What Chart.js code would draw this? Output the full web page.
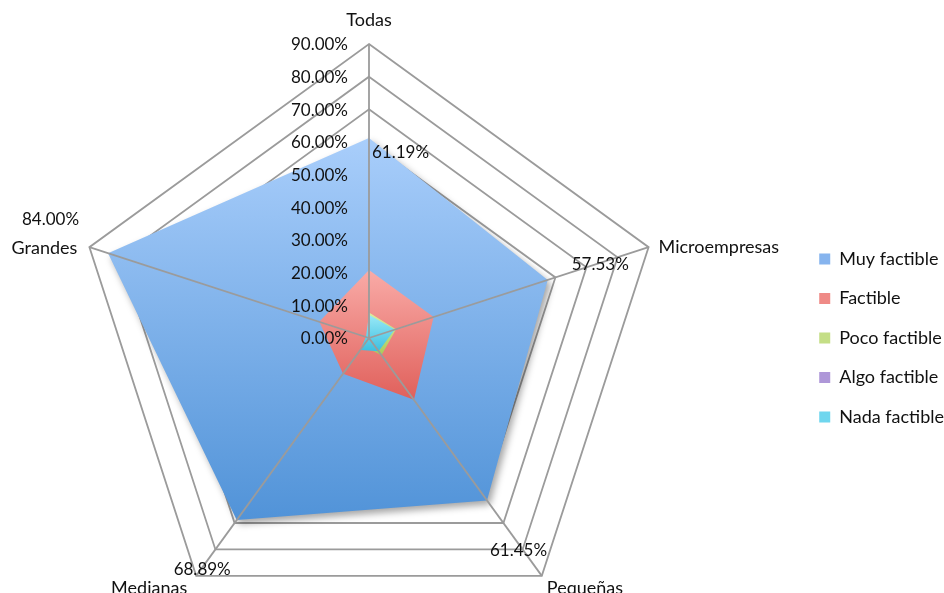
<!DOCTYPE html>
<html lang="es">
<head>
<meta charset="utf-8">
<title>Factibilidad por tamaño de empresa</title>
<script src="https://cdn.jsdelivr.net/npm/chart.js@4/dist/chart.umd.min.js"></script>
<style>
  html, body { margin: 0; padding: 0; background: #ffffff; overflow: hidden; }
  #wrap { position: relative; width: 944px; height: 593px; overflow: hidden; }
  /* el lienzo sobresale un poco para centrar el radar y dejar la leyenda a la derecha */
  #chartFactibilidad { position: absolute; left: -58px; top: 0; }
</style>
</head>
<body>
<div id="wrap"><canvas id="chartFactibilidad" width="1012" height="640"></canvas></div>
<script>
// Categorías (ejes) y series, en porcentaje
const categorias = ['Todas', 'Microempresas', 'Pequeñas', 'Medianas', 'Grandes'];
const muyFactible = [61.19, 57.53, 61.45, 68.89, 84.00];
const factible = [20.8, 20.8, 23.4, 13.5, 16.0];
const pocoFactible = [7.8, 8.7, 6.5, 3.0, 0.5];
const algoFactible = [2.0, 2.5, 2.0, 1.5, 0.0];
const nadaFactible = [7.1, 8.3, 5.0, 4.5, 1.0];
const valoresEje = [0, 10, 20, 30, 40, 50, 60, 70, 80, 90];

const FUENTE = 'Lato, "Open Sans", sans-serif';
const pct = v => v.toFixed(2) + '%';

// desplazamientos de etiquetas (px) respecto al punto del eje
const posEtiquetasEje = [
  { dx: 0, dy: -24, align: 'center' },
  { dx: 10, dy: 0, align: 'left' },
  { dx: 5, dy: 12, align: 'left' },
  { dx: -9, dy: 12, align: 'right' },
  { dx: -12, dy: 1, align: 'right' }
];
const posEtiquetasValor = [
  { dx: 3, dy: 14, align: 'left' },
  { dx: 24, dy: -15, align: 'left' },
  { dx: 3, dy: 50, align: 'left' },
  { dx: -6, dy: 49, align: 'right' },
  { dx: -29, dy: -34, align: 'right' }
];
// color de los cuadros de la leyenda
const coloresLeyenda = ['#86b4ee', '#ef8a86', '#c4de86', '#ae97d8', '#6fd6ee'];

// degradado vertical que cubre el polígono de cada serie
function degradado(arriba, abajo) {
  return function(c) {
    const s = c.chart.scales.r;
    if (!s || !s.drawingArea || !c.dataset) return abajo;
    const ys = c.dataset.data.map((v, i) => s.getPointPositionForValue(i, v).y);
    const y0 = Math.min(...ys), y1 = Math.max(...ys);
    const g = c.chart.ctx.createLinearGradient(0, y0, 0, y1 > y0 ? y1 : y0 + 1);
    g.addColorStop(0, arriba);
    g.addColorStop(1, abajo);
    return g;
  };
}

function serie(label, data, arriba, abajo, orden) {
  return { label, data, order: orden, fill: true, backgroundColor: degradado(arriba, abajo), borderWidth: 0, pointRadius: 0, pointHoverRadius: 0 };
}

// sombra bajo la serie principal
const sombra = {
  id: 'sombra',
  beforeDatasetsDraw(chart) {
    const ctx = chart.ctx;
    ctx.save();
    ctx.shadowColor = 'rgba(0,0,0,0.35)';
    ctx.shadowBlur = 7;
    ctx.shadowOffsetX = 3;
    ctx.shadowOffsetY = 4;
  },
  afterDatasetDraw(chart, args) {
    if (args.index === 0) chart.ctx.restore();
  }
};

// radios, textos de eje y etiquetas de valor por encima de las áreas
const rotulos = {
  id: 'rotulos',
  afterDatasetsDraw(chart) {
    const s = chart.scales.r, ctx = chart.ctx;
    ctx.save();
    ctx.strokeStyle = '#9b9b9b';
    ctx.lineWidth = 1.8;
    categorias.forEach((c, i) => {
      const p = s.getPointPositionForValue(i, s.max);
      ctx.beginPath();
      ctx.moveTo(s.xCenter, s.yCenter);
      ctx.lineTo(p.x, p.y);
      ctx.stroke();
    });
    ctx.fillStyle = '#111111';
    ctx.textBaseline = 'middle';
    ctx.font = '17px ' + FUENTE;
    ctx.textAlign = 'right';
    valoresEje.forEach(v => {
      const p = s.getPointPositionForValue(0, v);
      ctx.fillText(pct(v), p.x - 21, p.y + 1);
    });
    muyFactible.forEach((v, i) => {
      const p = s.getPointPositionForValue(i, v);
      const o = posEtiquetasValor[i];
      ctx.textAlign = o.align;
      ctx.fillText(pct(v), p.x + o.dx, p.y + o.dy);
    });
    ctx.font = '18px ' + FUENTE;
    categorias.forEach((c, i) => {
      const p = s.getPointPositionForValue(i, s.max);
      const o = posEtiquetasEje[i];
      ctx.textAlign = o.align;
      ctx.fillText(c, p.x + o.dx, p.y + o.dy);
    });
    ctx.restore();
  }
};

new Chart(document.getElementById('chartFactibilidad'), {
  type: 'radar',
  data: {
    labels: categorias,
    datasets: [
      serie('Muy factible', muyFactible, '#a9cefb', '#5193d8', 4),
      serie('Factible', factible, '#f9aba7', '#e0605b', 3),
      serie('Poco factible', pocoFactible, '#dcedA0', '#a9c95a', 2),
      serie('Algo factible', algoFactible, '#cdb8ea', '#8f73c0', 1),
      serie('Nada factible', nadaFactible, '#9ae9f7', '#3dbfe0', 0)
    ]
  },
  options: {
    responsive: false,
    animation: false,
    layout: { padding: { left: 0, right: 0, top: 44, bottom: 8 } },
    scales: {
      r: {
        min: 0, max: 90,
        ticks: { display: false, stepSize: 10 },
        grid: { color: '#9b9b9b', lineWidth: 1.8 },
        angleLines: { display: false },
        pointLabels: { display: false }
      }
    },
    plugins: {
      legend: {
        position: 'right',
        labels: {
          font: { family: FUENTE, size: 18 }, color: '#111111',
          boxWidth: 11, boxHeight: 11, padding: 21.5,
          sort: (a, b) => a.datasetIndex - b.datasetIndex,
          generateLabels(chart) {
            const items = Chart.defaults.plugins.legend.labels.generateLabels(chart);
            items.forEach(it => { it.fillStyle = coloresLeyenda[it.datasetIndex]; });
            return items;
          }
        }
      },
      tooltip: { enabled: false }
    }
  },
  plugins: [sombra, rotulos]
});
</script>
</body>
</html>
